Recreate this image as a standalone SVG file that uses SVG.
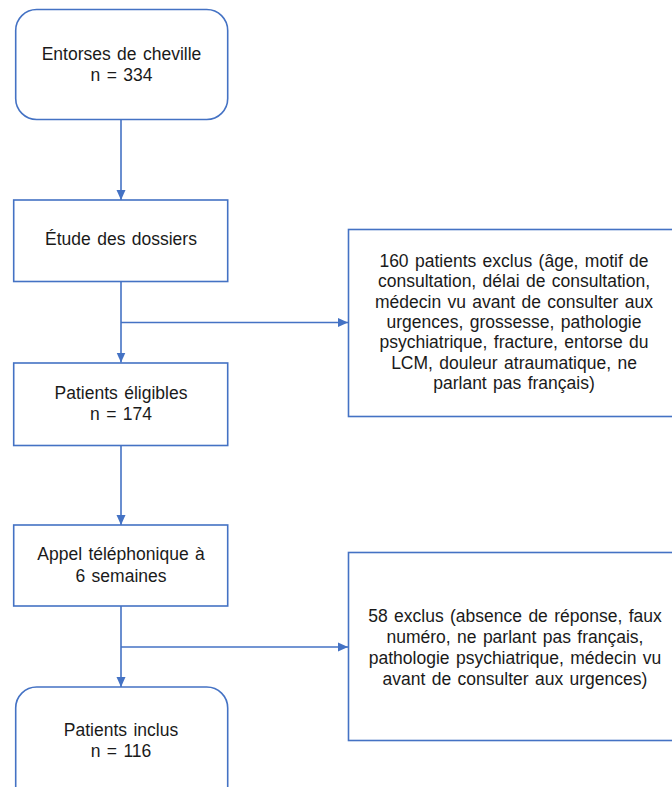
<svg xmlns="http://www.w3.org/2000/svg" width="672" height="787" viewBox="0 0 672 787">
<defs>
<marker id="arr" markerUnits="userSpaceOnUse" markerWidth="10" markerHeight="10" viewBox="0 0 10 10" refX="10" refY="5" orient="auto">
<path d="M0,0.5 L10,5 L0,9.5 Z" fill="#4472C4"/>
</marker>
<style>
.box{fill:#ffffff;stroke:#4472C4;stroke-width:1.6}
.t{font-family:"Liberation Sans",Arial,sans-serif;font-size:17.5px;fill:#1a1a1a;text-anchor:middle;word-spacing:1.5px}
.c{fill:none;stroke:#4472C4;stroke-width:1.6}
</style>
</defs>
<rect width="672" height="787" fill="#ffffff"/>
<g id="connectors">
<line class="c" x1="121" y1="120" x2="121" y2="200" marker-end="url(#arr)"/>
<line class="c" x1="121" y1="281.5" x2="121" y2="362.5" marker-end="url(#arr)"/>
<line class="c" x1="121" y1="322.5" x2="348" y2="322.5" marker-end="url(#arr)"/>
<line class="c" x1="121" y1="446" x2="121" y2="525" marker-end="url(#arr)"/>
<line class="c" x1="121" y1="606" x2="121" y2="687" marker-end="url(#arr)"/>
<line class="c" x1="121" y1="647" x2="348" y2="647" marker-end="url(#arr)"/>
</g>
<g id="n1">
<rect class="box" x="15.7" y="9.5" width="212" height="110" rx="21" ry="21"/>
<text class="t" x="121.5" y="59.5">Entorses de cheville</text>
<text class="t" x="121.5" y="81">n = 334</text>
</g>
<g id="n2">
<rect class="box" x="13.7" y="200" width="214" height="81.5"/>
<text class="t" x="121" y="245">Étude des dossiers</text>
</g>
<g id="n3">
<rect class="box" x="13.7" y="363" width="214" height="82.5"/>
<text class="t" x="121" y="398.5">Patients éligibles</text>
<text class="t" x="121" y="420">n = 174</text>
</g>
<g id="n4">
<rect class="box" x="13.7" y="525" width="214" height="81"/>
<text class="t" x="121" y="560">Appel téléphonique à</text>
<text class="t" x="121" y="581.7">6 semaines</text>
</g>
<g id="n5">
<rect class="box" x="15.7" y="687" width="212" height="130" rx="21" ry="21"/>
<text class="t" x="121" y="736">Patients inclus</text>
<text class="t" x="121" y="757">n = 116</text>
</g>
<g id="x1">
<rect class="box" x="348.5" y="229.5" width="340" height="187"/>
<text class="t" x="514" y="266.7">160 patients exclus (âge, motif de</text>
<text class="t" x="514" y="287.1">consultation, délai de consultation,</text>
<text class="t" x="514" y="307.5">médecin vu avant de consulter aux</text>
<text class="t" x="514" y="327.9">urgences, grossesse, pathologie</text>
<text class="t" x="514" y="348.3">psychiatrique, fracture, entorse du</text>
<text class="t" x="514" y="368.7">LCM, douleur atraumatique, ne</text>
<text class="t" x="514" y="389.1">parlant pas français)</text>
</g>
<g id="x2">
<rect class="box" x="348.5" y="552.5" width="340" height="188"/>
<text class="t" x="515" y="621.7">58 exclus (absence de réponse, faux</text>
<text class="t" x="515" y="642.7">numéro, ne parlant pas français,</text>
<text class="t" x="515" y="663.7">pathologie psychiatrique, médecin vu</text>
<text class="t" x="515" y="684.7">avant de consulter aux urgences)</text>
</g>
</svg>
